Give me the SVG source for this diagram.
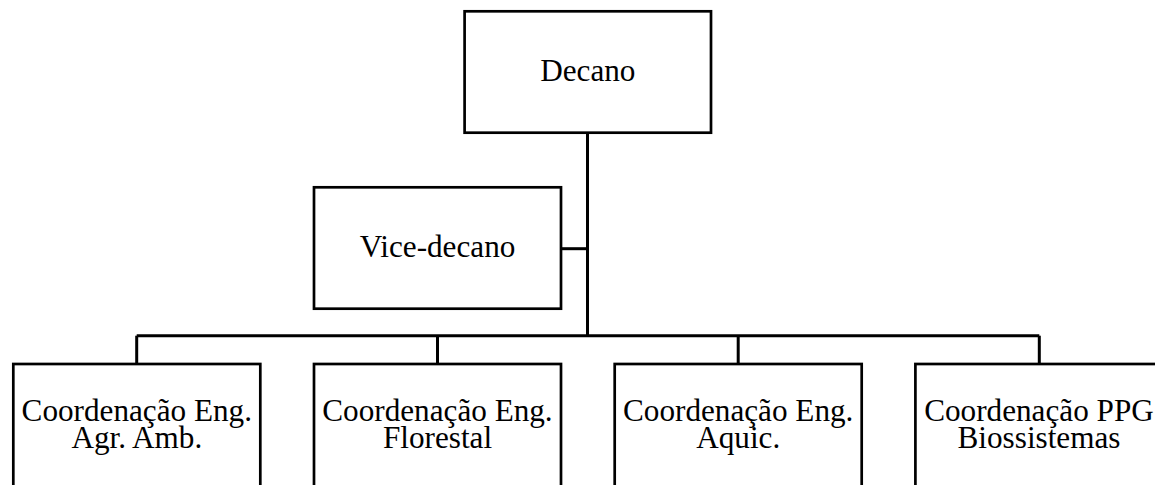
<svg xmlns="http://www.w3.org/2000/svg" width="1155" height="485" viewBox="0 0 1155 485">
<style>
.box{fill:#fff;stroke:#000;stroke-width:2.7}
.lbl{font-family:"Liberation Serif","Times New Roman",serif;font-size:31.2px;fill:#000;text-anchor:middle}
.con{fill:none;stroke:#000;stroke-width:3}
</style>
<rect width="1155" height="485" fill="#fff"/>
<g id="connectors">
<path class="con" d="M587.5 133V335.7"/>
<path class="con" d="M561 248.7H587.5"/>
<path class="con" d="M136.7 335.7H1039.3"/>
<path class="con" d="M136.7 335.7V364"/>
<path class="con" d="M437.5 335.7V364"/>
<path class="con" d="M738.2 335.7V364"/>
<path class="con" d="M1039.3 335.7V364"/>
</g>
<g id="decano">
<rect class="box" x="464.6" y="11.3" width="246.4" height="121.4"/>
<text class="lbl" x="587.8" y="81">Decano</text>
</g>
<g id="vice-decano">
<rect class="box" x="314" y="187.3" width="247" height="121.4"/>
<text class="lbl" x="437.5" y="257">Vice-decano</text>
</g>
<g id="coord-agr-amb">
<rect class="box" x="13.3" y="364" width="247" height="130"/>
<text class="lbl" x="136.8" y="420.5">Coordenação Eng.</text>
<text class="lbl" x="136.8" y="448.2">Agr. Amb.</text>
</g>
<g id="coord-florestal">
<rect class="box" x="314" y="364" width="247" height="130"/>
<text class="lbl" x="437.5" y="420.5">Coordenação Eng.</text>
<text class="lbl" x="437.5" y="448.2">Florestal</text>
</g>
<g id="coord-aquic">
<rect class="box" x="614.7" y="364" width="247" height="130"/>
<text class="lbl" x="738.2" y="420.5">Coordenação Eng.</text>
<text class="lbl" x="738.2" y="448.2">Aquic.</text>
</g>
<g id="coord-ppg">
<rect class="box" x="915.4" y="364" width="247" height="130"/>
<text class="lbl" x="1039" y="420.5">Coordenação PPG</text>
<text class="lbl" x="1039" y="448.2">Biossistemas</text>
</g>
</svg>
